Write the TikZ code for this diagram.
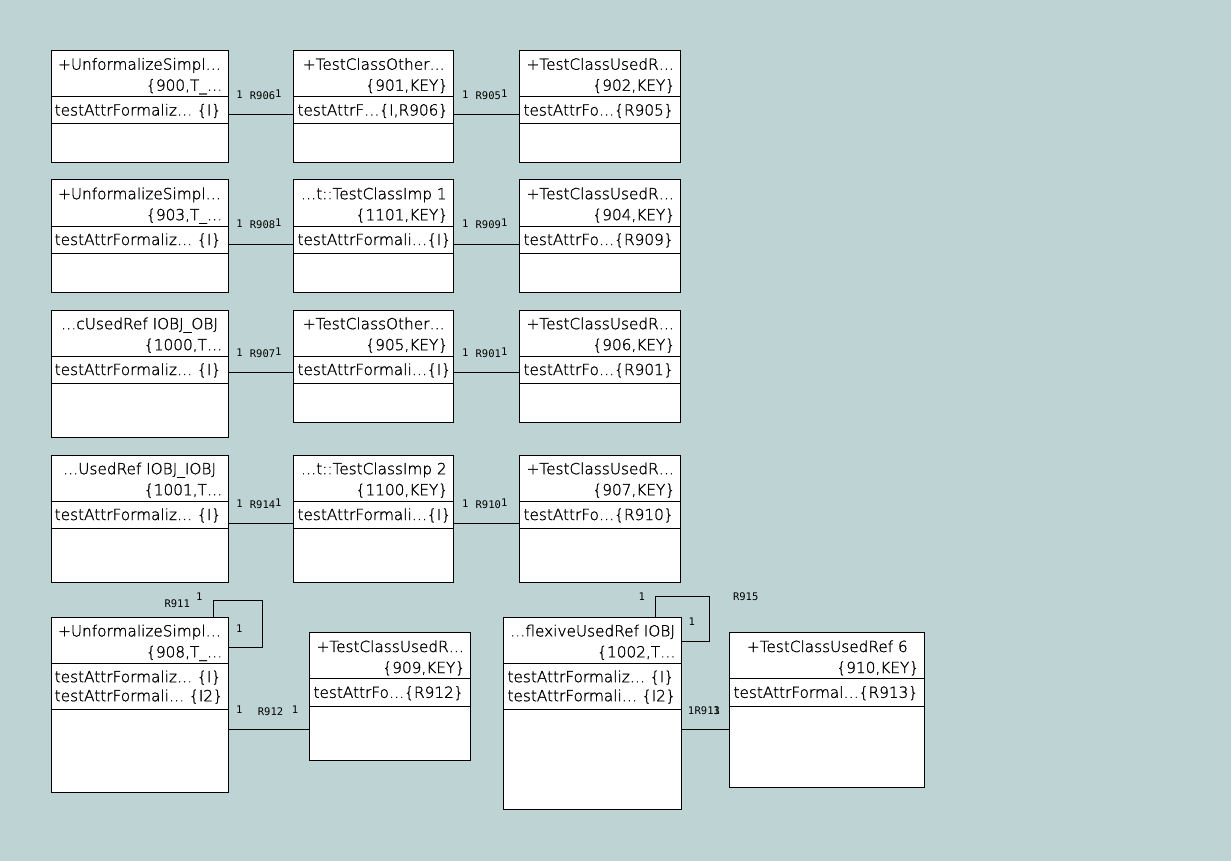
\documentclass[tikz,border=0pt]{standalone}
\usepackage{fontspec}
\setmainfont{DejaVuSans-ExtraLight.ttf}[BoldFont=DejaVuSans-ExtraLight.ttf, BoldFeatures={FakeBold=1.2}]
\newfontfamily\umlmono{DejaVu Sans Mono}
\usepackage{xcolor}
\definecolor{diagram-bg}{RGB}{190,211,211}
\usepackage{tikz}
\usetikzlibrary{positioning}

\newcommand{\umlfont}{\fontsize{15.3}{18}\selectfont\bfseries}
\newcommand{\relfont}{\umlmono\fontsize{10.5}{12}\selectfont}

\tikzset{
    classframe/.style={draw=black, line width=1pt, fill=white, inner sep=0pt, anchor=north west},
    classline/.style={draw=black, line width=1pt},
    classtext/.style={font=\umlfont, inner sep=0pt, anchor=base},
    assoc/.style={draw=black, line width=1pt},
    mult/.style={font=\relfont, inner sep=0pt, anchor=base},
    role/.style={font=\relfont, inner sep=0pt, anchor=base}
}

% name, left, top, width, height, title, key, attribute divider, first attribute
\newcommand{\umlclass}[9]{%
    \node[classframe, minimum width=#4, minimum height=#5] (#1) at (#2,#3) {};
    \draw[classline] ([yshift=-46.5pt]#1.north west) -- ([yshift=-46.5pt]#1.north east);
    \draw[classline] ([yshift=-#8]#1.north west) -- ([yshift=-#8]#1.north east);
    \node[classtext] (#1-name) at ([yshift=-19.7pt]#1.north) {#6};
    \node[classtext, anchor=base east] (#1-key) at ([xshift=-6pt,yshift=-40.7pt]#1.north east) {#7};
    \node[classtext, anchor=base west] (#1-attr) at ([xshift=4pt,yshift=-65.5pt]#1.north west) {#9};
}

\begin{document}
\begin{tikzpicture}[x=1pt, y=-1pt]

% Background
\fill[diagram-bg] (0,0) rectangle (1231,861);
\useasboundingbox (0,0) rectangle (1231,861);

% Row 1
\umlclass{A1}{50.5}{50}{177pt}{112pt}{+UnformalizeSimpl…}{\{900,T\_…}{74pt}{testAttrFormaliz… \{I\}}
\umlclass{B1}{293.3}{50}{160pt}{112pt}{+TestClassOther…}{\{901,KEY\}}{74pt}{testAttrF…\{I,R906\}}
\umlclass{C1}{519.3}{50}{161pt}{112pt}{+TestClassUsedR…}{\{902,KEY\}}{74pt}{testAttrFo…\{R905\}}

% Row 2
\umlclass{A2}{50.5}{179.5}{177pt}{112pt}{+UnformalizeSimpl…}{\{903,T\_…}{74pt}{testAttrFormaliz… \{I\}}
\umlclass{B2}{293.3}{179.5}{160pt}{112pt}{…t::TestClassImp 1}{\{1101,KEY\}}{74pt}{testAttrFormali…\{I\}}
\umlclass{C2}{519.3}{179.5}{161pt}{112pt}{+TestClassUsedR…}{\{904,KEY\}}{74pt}{testAttrFo…\{R909\}}

% Row 3
\umlclass{A3}{50.5}{309.5}{177pt}{127pt}{…cUsedRef IOBJ\_OBJ}{\{1000,T…}{74pt}{testAttrFormaliz… \{I\}}
\umlclass{B3}{293.3}{309.5}{160pt}{112pt}{+TestClassOther…}{\{905,KEY\}}{74pt}{testAttrFormali…\{I\}}
\umlclass{C3}{519.3}{309.5}{161pt}{112pt}{+TestClassUsedR…}{\{906,KEY\}}{74pt}{testAttrFo…\{R901\}}

% Row 4
\umlclass{A4}{50.5}{454.5}{177pt}{127pt}{…UsedRef IOBJ\_IOBJ}{\{1001,T…}{74pt}{testAttrFormaliz… \{I\}}
\umlclass{B4}{293.3}{454.5}{160pt}{127pt}{…t::TestClassImp 2}{\{1100,KEY\}}{74pt}{testAttrFormali…\{I\}}
\umlclass{C4}{519.3}{454.5}{161pt}{127pt}{+TestClassUsedR…}{\{907,KEY\}}{74pt}{testAttrFo…\{R910\}}

% Row 5
\umlclass{A5}{50.5}{616.7}{177pt}{175.6pt}{+UnformalizeSimpl…}{\{908,T\_…}{92.6pt}{testAttrFormaliz… \{I\}}
\node[classtext, anchor=base west] (A5-attr2) at ([yshift=-19pt]A5-attr.base west) {testAttrFormali… \{I2\}};
\umlclass{B5}{309.3}{632.3}{161pt}{128pt}{+TestClassUsedR…}{\{909,KEY\}}{74pt}{testAttrFo…\{R912\}}
\umlclass{A6}{503.3}{616.7}{177.4pt}{192.6pt}{…flexiveUsedRef IOBJ}{\{1002,T…}{92.6pt}{testAttrFormaliz… \{I\}}
\node[classtext, anchor=base west] (A6-attr2) at ([yshift=-19pt]A6-attr.base west) {testAttrFormali… \{I2\}};
\umlclass{B6}{729.3}{632.3}{195pt}{155pt}{+TestClassUsedRef 6}{\{910,KEY\}}{74pt}{testAttrFormal…\{R913\}}

% Associations between neighbouring classes
\foreach \l/\r/\rel/\dy in {A1/B1/R906/65, B1/C1/R905/65, A2/B2/R908/64.5, B2/C2/R909/64.5,
                            A3/B3/R907/63.2, B3/C3/R901/63.2, A4/B4/R914/69.2, B4/C4/R910/69.2} {
    \draw[assoc] ([yshift=-\dy pt]\l.north east) coordinate (\rel-a) -- (\rel-a -| \r.west) coordinate (\rel-b);
    \node[mult] (\rel-m1) at ([xshift=11pt,yshift=16.7pt]\rel-a) {1};
    \node[role] (\rel) at ([xshift=34pt,yshift=15pt]\rel-a) {\rel};
    \node[mult] (\rel-m2) at ([xshift=-15pt,yshift=17.3pt]\rel-b) {1};
}

% R912
\draw[assoc] ([yshift=-24.8pt]A5.east) coordinate (R912-a) -- (R912-a -| B5.west) coordinate (R912-b);
\node[mult] (R912-m1) at ([xshift=10.7pt,yshift=16.8pt]R912-a) {1};
\node[role] (R912) at ([xshift=42pt,yshift=14.5pt]R912-a) {R912};
\node[mult] (R912-m2) at ([xshift=-14.3pt,yshift=16.8pt]R912-b) {1};

% R913
\draw[assoc] ([yshift=-16.3pt]A6.east) coordinate (R913-a) -- (R913-a -| B6.west) coordinate (R913-b);
\node[mult] (R913-m1) at ([xshift=9.3pt,yshift=15pt]R913-a) {1};
\node[role] (R913) at ([xshift=25.6pt,yshift=15pt]R913-a) {R913};
\node[mult] (R913-m2) at ([xshift=-12.6pt,yshift=15pt]R913-b) {1};

% Reflexive R911
\draw[assoc] ([xshift=-15pt]A5.north east) -- ++(0,-16.4)
    -| ([xshift=33.7pt,yshift=-31pt]A5.north east) -- ([yshift=-31pt]A5.north east);
\node[role] (R911) at ([xshift=-51.3pt,yshift=9.7pt]A5.north east) {R911};
\node[mult] (R911-m1) at ([xshift=-29.3pt,yshift=16.7pt]A5.north east) {1};
\node[mult] (R911-m2) at ([xshift=10.7pt,yshift=-15.3pt]A5.north east) {1};

% Reflexive R915
\draw[assoc] ([xshift=-26.7pt]A6.north east) -- ++(0,-20.4)
    -| ([xshift=27.5pt,yshift=-24.3pt]A6.north east) -- ([yshift=-24.3pt]A6.north east);
\node[role] (R915) at ([xshift=64pt,yshift=16pt]A6.north east) {R915};
\node[mult] (R915-m1) at ([xshift=-40pt,yshift=16.7pt]A6.north east) {1};
\node[mult] (R915-m2) at ([xshift=10pt,yshift=-8.3pt]A6.north east) {1};

\end{tikzpicture}
\end{document}
